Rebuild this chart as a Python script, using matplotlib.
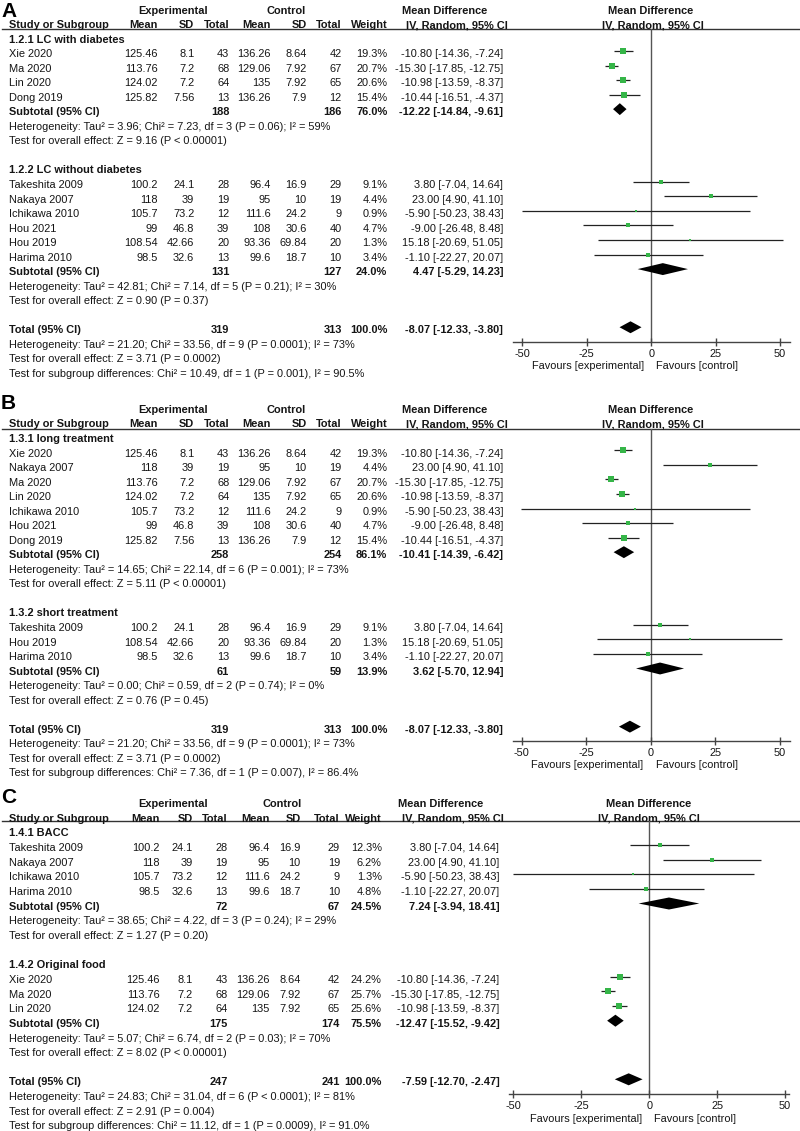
import matplotlib
matplotlib.use("Agg")
import matplotlib.pyplot as plt
import numpy as np

plt.rcParams['font.family'] = ['Liberation Sans', 'DejaVu Sans']
plt.rcParams['axes.unicode_minus'] = False

W, H = 800, 1131
FS = 7.9
TXT = '#151515'
GREEN = '#35b548'

# study level data (same studies reused in all three panels)
studies = ["Xie 2020", "Ma 2020", "Lin 2020", "Dong 2019", "Takeshita 2009",
           "Nakaya 2007", "Ichikawa 2010", "Hou 2021", "Hou 2019", "Harima 2010"]
exp_mean = [125.46, 113.76, 124.02, 125.82, 100.2, 118, 105.7, 99, 108.54, 98.5]
exp_sd = [8.1, 7.2, 7.2, 7.56, 24.1, 39, 73.2, 46.8, 42.66, 32.6]
exp_n = [43, 68, 64, 13, 28, 19, 12, 39, 20, 13]
ctl_mean = [136.26, 129.06, 135, 136.26, 96.4, 95, 111.6, 108, 93.36, 99.6]
ctl_sd = [8.64, 7.92, 7.92, 7.9, 16.9, 10, 24.2, 30.6, 69.84, 18.7]
ctl_n = [42, 67, 65, 12, 29, 19, 9, 40, 20, 10]
md = [-10.80, -15.30, -10.98, -10.44, 3.80, 23.00, -5.90, -9.00, 15.18, -1.10]
md_lo = [-14.36, -17.85, -13.59, -16.51, -7.04, 4.90, -50.23, -26.48, -20.69, -22.27]
md_hi = [-7.24, -12.75, -8.37, -4.37, 14.64, 41.10, 38.43, 8.48, 51.05, 20.07]
weight_ab = [19.3, 20.7, 20.6, 15.4, 9.1, 4.4, 0.9, 4.7, 1.3, 3.4]
weight_c = [24.2, 25.7, 25.6, None, 12.3, 6.2, 1.3, None, None, 4.8]

# panel A: diabetes subgroups
a_groups = ["1.2.1 LC with diabetes", "1.2.2 LC without diabetes"]
a_members = [["Xie 2020", "Ma 2020", "Lin 2020", "Dong 2019"],
             ["Takeshita 2009", "Nakaya 2007", "Ichikawa 2010", "Hou 2021", "Hou 2019", "Harima 2010"]]
a_sub_n = [(188, 186), (131, 127)]
a_sub_w = [76.0, 24.0]
a_sub_md = [(-12.22, -14.84, -9.61), (4.47, -5.29, 14.23)]
a_sub_het = ["Heterogeneity: Tau² = 3.96; Chi² = 7.23, df = 3 (P = 0.06); I² = 59%",
             "Heterogeneity: Tau² = 42.81; Chi² = 7.14, df = 5 (P = 0.21); I² = 30%"]
a_sub_z = ["Test for overall effect: Z = 9.16 (P < 0.00001)",
           "Test for overall effect: Z = 0.90 (P = 0.37)"]
a_total = (319, 313, 100.0, -8.07, -12.33, -3.80)
a_total_txt = ["Heterogeneity: Tau² = 21.20; Chi² = 33.56, df = 9 (P = 0.0001); I² = 73%",
               "Test for overall effect: Z = 3.71 (P = 0.0002)",
               "Test for subgroup differences: Chi² = 10.49, df = 1 (P = 0.001), I² = 90.5%"]

# panel B: treatment duration
b_groups = ["1.3.1 long treatment", "1.3.2 short treatment"]
b_members = [["Xie 2020", "Nakaya 2007", "Ma 2020", "Lin 2020", "Ichikawa 2010", "Hou 2021", "Dong 2019"],
             ["Takeshita 2009", "Hou 2019", "Harima 2010"]]
b_sub_n = [(258, 254), (61, 59)]
b_sub_w = [86.1, 13.9]
b_sub_md = [(-10.41, -14.39, -6.42), (3.62, -5.70, 12.94)]
b_sub_het = ["Heterogeneity: Tau² = 14.65; Chi² = 22.14, df = 6 (P = 0.001); I² = 73%",
             "Heterogeneity: Tau² = 0.00; Chi² = 0.59, df = 2 (P = 0.74); I² = 0%"]
b_sub_z = ["Test for overall effect: Z = 5.11 (P < 0.00001)",
           "Test for overall effect: Z = 0.76 (P = 0.45)"]
b_total = (319, 313, 100.0, -8.07, -12.33, -3.80)
b_total_txt = ["Heterogeneity: Tau² = 21.20; Chi² = 33.56, df = 9 (P = 0.0001); I² = 73%",
               "Test for overall effect: Z = 3.71 (P = 0.0002)",
               "Test for subgroup differences: Chi² = 7.36, df = 1 (P = 0.007), I² = 86.4%"]

# panel C: food type
c_groups = ["1.4.1 BACC", "1.4.2 Original food"]
c_members = [["Takeshita 2009", "Nakaya 2007", "Ichikawa 2010", "Harima 2010"],
             ["Xie 2020", "Ma 2020", "Lin 2020"]]
c_sub_n = [(72, 67), (175, 174)]
c_sub_w = [24.5, 75.5]
c_sub_md = [(7.24, -3.94, 18.41), (-12.47, -15.52, -9.42)]
c_sub_het = ["Heterogeneity: Tau² = 38.65; Chi² = 4.22, df = 3 (P = 0.24); I² = 29%",
             "Heterogeneity: Tau² = 5.07; Chi² = 6.74, df = 2 (P = 0.03); I² = 70%"]
c_sub_z = ["Test for overall effect: Z = 1.27 (P = 0.20)",
           "Test for overall effect: Z = 8.02 (P < 0.00001)"]
c_total = (247, 241, 100.0, -7.59, -12.70, -2.47)
c_total_txt = ["Heterogeneity: Tau² = 24.83; Chi² = 31.04, df = 6 (P < 0.0001); I² = 81%",
               "Test for overall effect: Z = 2.91 (P = 0.004)",
               "Test for subgroup differences: Chi² = 11.12, df = 1 (P = 0.0009), I² = 91.0%"]

fig = plt.figure(figsize=(W / 100, H / 100), dpi=100)
canvas = fig.add_axes([0, 0, 1, 1])
canvas.set_xlim(0, W)
canvas.set_ylim(H, 0)
canvas.axis('off')


def put(x, y, s, ha='left', bold=False, size=FS):
    canvas.text(x, y + 3.8, s, ha=ha, va='baseline', fontsize=size, color=TXT,
                fontweight='bold' if bold else 'normal')


def fmt_md(m, lo, hi):
    return f"{m:.2f} [{lo:.2f}, {hi:.2f}]"


def draw_panel(letter, lay, groups, members, sub_n, sub_w, sub_md, sub_het, sub_z,
               total, total_txt, weights):
    row0, step = lay['row0'], lay['step']
    cols = lay['cols']
    ry = lambda i: row0 + i * step

    canvas.text(1, lay['letter_y'], letter, fontsize=15, fontweight='bold', color='black',
                va='baseline', ha='left')

    # header
    put(lay['exp_c'], ry(0), "Experimental", ha='center', bold=True)
    put(lay['ctl_c'], ry(0), "Control", ha='center', bold=True)
    put(lay['md_c'][0], ry(0), "Mean Difference", ha='center', bold=True)
    put(lay['md_c'][1], ry(1), "IV, Random, 95% CI", ha='center', bold=True)
    put(lay['pl_c'][0], ry(0), "Mean Difference", ha='center', bold=True)
    put(lay['pl_c'][1], ry(1), "IV, Random, 95% CI", ha='center', bold=True)
    put(cols[0], ry(1), "Study or Subgroup", bold=True)
    for x, s in zip(cols[1:8], ["Mean", "SD", "Total", "Mean", "SD", "Total", "Weight"]):
        put(x, ry(1), s, ha='right', bold=True)
    canvas.plot([2, W], [lay['head_y'], lay['head_y']], color='#333333', lw=1)

    # forest axes, x in mean difference units
    x0, x1 = lay['axis_x']
    zero, scale = lay['zero'], lay['scale']
    top, bot = lay['head_y'], lay['axis_y']
    ax = fig.add_axes([x0 / W, 1 - bot / H, (x1 - x0) / W, (bot - top) / H])
    ax.set_xlim((x0 - zero) / scale, (x1 - zero) / scale)
    ax.set_ylim((bot - row0) / step, (top - row0) / step)
    ax.patch.set_alpha(0)
    for s in ['top', 'left', 'right']:
        ax.spines[s].set_visible(False)
    ax.spines['bottom'].set_color('#444444')
    ax.spines['bottom'].set_linewidth(1.0)
    ax.set_yticks([])
    ax.set_xticks([-50, -25, 0, 25, 50])
    ax.tick_params(axis='x', direction='inout', length=6, width=1, color='#444444',
                   labelsize=FS, labelcolor=TXT, pad=2)
    ax.axvline(0, color='#555555', lw=1, zorder=1)

    def diamond(i, m, lo, hi):
        yc = i - 0.16
        hh = 0.41
        ax.fill([lo, m, hi, m], [yc, yc - hh, yc, yc + hh], color='black', lw=0, zorder=3)

    i = 2
    for g in range(len(groups)):
        put(cols[0], ry(i), groups[g], bold=True)
        i += 1
        for name in members[g]:
            k = studies.index(name)
            w = weights[k]
            put(cols[0], ry(i), name)
            vals = [f"{exp_mean[k]:g}", f"{exp_sd[k]:g}", f"{exp_n[k]}",
                    f"{ctl_mean[k]:g}", f"{ctl_sd[k]:g}", f"{ctl_n[k]}", f"{w:.1f}%"]
            for x, s in zip(cols[1:8], vals):
                put(x, ry(i), s, ha='right')
            put(lay['eff_x'], ry(i), fmt_md(md[k], md_lo[k], md_hi[k]), ha='right')
            ax.hlines(i - 0.16, md_lo[k], md_hi[k], color='#222222', lw=0.9, zorder=2)
            side = 1.5 + 0.9 * np.sqrt(w)
            ax.plot([md[k]], [i - 0.16], marker='s', ms=side * 0.72, color=GREEN,
                    mew=0, ls='none', zorder=4)
            i += 1
        put(cols[0], ry(i), "Subtotal (95% CI)", bold=True)
        put(cols[3], ry(i), str(sub_n[g][0]), ha='right', bold=True)
        put(cols[6], ry(i), str(sub_n[g][1]), ha='right', bold=True)
        put(cols[7], ry(i), f"{sub_w[g]:.1f}%", ha='right', bold=True)
        put(lay['eff_x'], ry(i), fmt_md(*sub_md[g]), ha='right', bold=True)
        diamond(i, *sub_md[g])
        put(cols[0], ry(i + 1), sub_het[g])
        put(cols[0], ry(i + 2), sub_z[g])
        i += 4

    put(cols[0], ry(i), "Total (95% CI)", bold=True)
    put(cols[3], ry(i), str(total[0]), ha='right', bold=True)
    put(cols[6], ry(i), str(total[1]), ha='right', bold=True)
    put(cols[7], ry(i), f"{total[2]:.1f}%", ha='right', bold=True)
    put(lay['eff_x'], ry(i), fmt_md(*total[3:]), ha='right', bold=True)
    diamond(i, *total[3:])
    for j, s in enumerate(total_txt):
        put(cols[0], ry(i + 1 + j), s)

    fy = lay['axis_y'] + lay['fav_dy']
    put(zero - 7.5, fy, "Favours [experimental]", ha='right')
    put(zero + 5, fy, "Favours [control]", ha='left')


cols_ab = [9.3, 157.7, 194.3, 229.3, 270.7, 306.7, 341.7, 387.3]
cols_c = [9.3, 160, 192.7, 227.7, 270, 300.7, 340, 381.7]

lay_a = dict(row0=9.7, step=14.54, cols=cols_ab, letter_y=16.7, exp_c=172.7, ctl_c=286,
             md_c=(445, 457.3), pl_c=(650.7, 653.3), head_y=29.3, axis_y=341.7,
             axis_x=(512.5, 790), zero=651.3, scale=2.577, eff_x=503.3, fav_dy=23.3)
lay_b = dict(row0=409.1, step=14.54, cols=cols_ab, letter_y=409.3, exp_c=172.7, ctl_c=286,
             md_c=(445, 457.3), pl_c=(650.7, 653.3), head_y=429, axis_y=741,
             axis_x=(512.5, 790), zero=650.7, scale=2.577, eff_x=503.3, fav_dy=23.3)
lay_c = dict(row0=803.3, step=14.65, cols=cols_c, letter_y=803.3, exp_c=172.7, ctl_c=282,
             md_c=(440.7, 453), pl_c=(649, 649), head_y=820.7, axis_y=1094,
             axis_x=(509, 789), zero=649.3, scale=2.717, eff_x=499.3, fav_dy=24.3)

draw_panel("A", lay_a, a_groups, a_members, a_sub_n, a_sub_w, a_sub_md, a_sub_het, a_sub_z,
           a_total, a_total_txt, weight_ab)
draw_panel("B", lay_b, b_groups, b_members, b_sub_n, b_sub_w, b_sub_md, b_sub_het, b_sub_z,
           b_total, b_total_txt, weight_ab)
draw_panel("C", lay_c, c_groups, c_members, c_sub_n, c_sub_w, c_sub_md, c_sub_het, c_sub_z,
           c_total, c_total_txt, weight_c)

fig.savefig("out.png", dpi=100, facecolor='white')
